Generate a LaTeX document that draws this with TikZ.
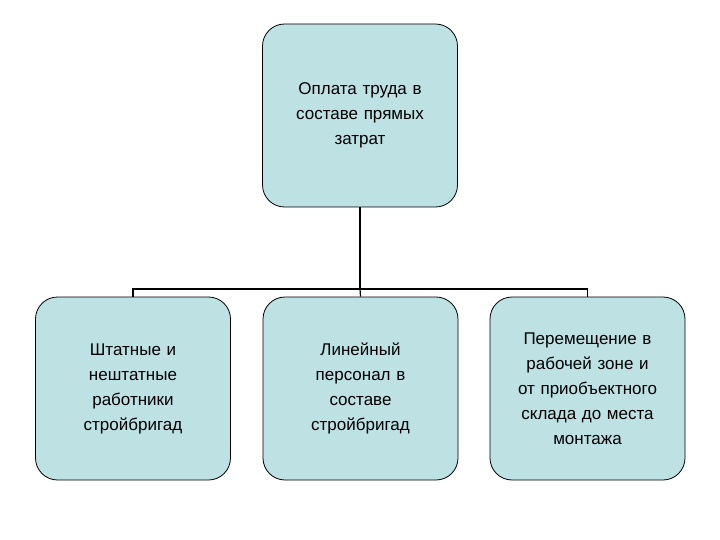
\documentclass[tikz,border=0pt]{standalone}
\usepackage{fontspec}
\setmainfont{Liberation Sans}
\begin{document}
\begin{tikzpicture}[x=1pt,y=-1pt,
  bx/.style={draw=black,line width=0.8pt,fill={rgb,255:red,190;green,225;blue,228},rounded corners=22pt,minimum width=195pt,minimum height=183pt,align=center,font=\fontsize{17}{25}\selectfont,text width=180pt},
  ln/.style={draw=black,line width=1.2pt}]
\useasboundingbox (0,0) rectangle (720,540);
\node[bx] (t) at (360,115.5) {Оплата труда в\\составе прямых\\затрат};
\node[bx] (a) at (133,388.5) {Штатные и\\нештатные\\работники\\стройбригад};
\node[bx] (b) at (360.5,388.5) {Линейный\\персонал в\\составе\\стройбригад};
\node[bx] (c) at (587.5,388.5) {Перемещение в\\рабочей зоне и\\от приобъектного\\склада до места\\монтажа};
\coordinate (h) at (360,289);
\draw[line width=2pt] (t.south) -- (360,262);
\draw[ln] (360,262) -- (h);
\draw[ln] (a.north) -- (a.north |- h) -- (c.north |- h) -- (c.north);
\draw[ln] (h) -- (b.north);
\end{tikzpicture}
\end{document}
